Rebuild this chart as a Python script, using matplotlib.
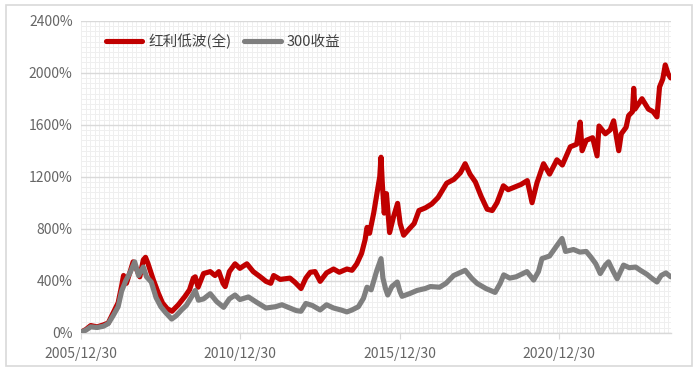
import numpy as np
import pandas as pd
import matplotlib
matplotlib.use("Agg")
import matplotlib.pyplot as plt
import matplotlib.dates as mdates
from matplotlib.patches import Rectangle
from matplotlib.ticker import MultipleLocator, FixedLocator

plt.rcParams['font.family'] = ['Noto Sans CJK SC', 'DejaVu Sans']

series_names = ["红利低波(全)", "300收益"]

# time in decimal years
red_t = [2006.00, 2006.15, 2006.30, 2006.50, 2006.70, 2006.85, 2007.00, 2007.16, 2007.27, 2007.33,
         2007.42, 2007.55, 2007.63, 2007.72, 2007.84, 2007.95, 2008.02, 2008.10, 2008.26, 2008.42,
         2008.55, 2008.70, 2008.85, 2008.95, 2009.05, 2009.26, 2009.40, 2009.52, 2009.58, 2009.67,
         2009.75, 2009.84, 2010.05, 2010.20, 2010.32, 2010.45, 2010.52, 2010.65, 2010.83, 2010.98,
         2011.20, 2011.40, 2011.62, 2011.80, 2011.95, 2012.04, 2012.25, 2012.55, 2012.70, 2012.90,
         2013.05, 2013.19, 2013.34, 2013.50, 2013.70, 2013.92, 2014.10, 2014.34, 2014.50, 2014.65,
         2014.80, 2014.91, 2014.97, 2015.05, 2015.18, 2015.30, 2015.37, 2015.41, 2015.45, 2015.51,
         2015.58, 2015.68, 2015.80, 2015.93, 2016.01, 2016.12, 2016.30, 2016.45, 2016.60, 2016.80,
         2017.00, 2017.20, 2017.47, 2017.70, 2017.90, 2018.05, 2018.20, 2018.37, 2018.55, 2018.74,
         2018.90, 2019.05, 2019.25, 2019.40, 2019.60, 2019.80, 2020.00, 2020.15, 2020.30, 2020.51,
         2020.70, 2020.93, 2021.10, 2021.35, 2021.55, 2021.66, 2021.72, 2021.85, 2022.05, 2022.19,
         2022.25, 2022.45, 2022.60, 2022.71, 2022.80, 2022.87, 2022.95, 2023.10, 2023.18, 2023.30,
         2023.34, 2023.38, 2023.60, 2023.80, 2023.95, 2024.07, 2024.15, 2024.25, 2024.33, 2024.42,
         2024.50]
red_v = [5, 25, 55, 45, 60, 75, 150, 230, 360, 440,
         380, 480, 545, 500, 430, 560, 580, 530, 410, 305,
         230, 185, 165, 190, 215, 280, 330, 420, 430, 350,
         400, 455, 470, 440, 470, 380, 355, 470, 530, 495,
         530, 470, 430, 395, 380, 440, 410, 420, 390, 340,
         420, 465, 470, 395, 460, 490, 465, 490, 480, 530,
         610, 715, 810, 765, 920, 1100, 1200, 1350, 1150, 920,
         1070, 770, 890, 995, 840, 750, 800, 840, 940, 960,
         990, 1040, 1150, 1180, 1230, 1300, 1220, 1160, 1050, 950,
         940, 1000, 1130, 1100, 1120, 1140, 1170, 1000, 1150, 1300,
         1220, 1330, 1290, 1430, 1450, 1620, 1400, 1480, 1500, 1360,
         1590, 1530, 1560, 1630, 1500, 1400, 1530, 1580, 1670, 1700,
         1880, 1720, 1800, 1720, 1700, 1660, 1890, 1950, 2060, 1990,
         1960]

gray_t = [2006.00, 2006.15, 2006.30, 2006.50, 2006.70, 2006.85, 2007.00, 2007.16, 2007.27, 2007.40,
          2007.55, 2007.68, 2007.80, 2007.95, 2008.05, 2008.20, 2008.35, 2008.50, 2008.65, 2008.84,
          2008.98, 2009.15, 2009.30, 2009.45, 2009.58, 2009.68, 2009.84, 2010.05, 2010.25, 2010.47,
          2010.65, 2010.83, 2010.98, 2011.25, 2011.50, 2011.80, 2012.10, 2012.30, 2012.55, 2012.75,
          2012.90, 2013.05, 2013.25, 2013.50, 2013.70, 2013.92, 2014.15, 2014.34, 2014.50, 2014.70,
          2014.86, 2014.97, 2015.10, 2015.28, 2015.41, 2015.47, 2015.55, 2015.62, 2015.75, 2015.92,
          2016.00, 2016.07, 2016.30, 2016.54, 2016.80, 2016.96, 2017.25, 2017.45, 2017.69, 2018.05,
          2018.25, 2018.42, 2018.70, 2018.99, 2019.15, 2019.26, 2019.45, 2019.65, 2019.99, 2020.20,
          2020.35, 2020.46, 2020.70, 2020.90, 2021.09, 2021.20, 2021.45, 2021.65, 2021.85, 2022.00,
          2022.15, 2022.29, 2022.45, 2022.55, 2022.70, 2022.82, 2023.02, 2023.20, 2023.40, 2023.55,
          2023.75, 2023.90, 2024.07, 2024.20, 2024.35, 2024.50]
gray_v = [5, 20, 45, 40, 50, 70, 130, 200, 320, 400,
          470, 545, 440, 505, 430, 390, 270, 200, 155, 105,
          130, 175, 210, 270, 325, 250, 260, 300, 240, 195,
          260, 290, 255, 275, 235, 190, 200, 215, 190, 170,
          165, 225, 210, 175, 215, 190, 175, 160, 175, 200,
          265, 350, 330, 480, 570, 420, 340, 290, 355, 390,
          320, 280, 300, 325, 340, 355, 350, 380, 440, 480,
          420, 380, 340, 310, 380, 445, 420, 430, 470, 405,
          470, 570, 590, 660, 725, 625, 640, 620, 625, 580,
          530, 455, 520, 545, 470, 415, 520, 500, 505, 480,
          450, 420, 390, 440, 460, 430]

x_tick_dates = ["2005-12-30", "2010-12-30", "2015-12-30", "2020-12-30"]
x_tick_labels = ["2005/12/30", "2010/12/30", "2015/12/30", "2020/12/30"]
y_ticks = [0, 400, 800, 1200, 1600, 2000, 2400]


def to_dates(t):
    t = np.asarray(t, dtype=float)
    return pd.Timestamp("2006-01-01") + pd.to_timedelta((t - 2006.0) * 365.25, unit="D")


fig = plt.figure(figsize=(7.0, 3.7), dpi=100)
ax = fig.add_axes([0.1157, 0.1008, 0.9586 - 0.1157, 0.944 - 0.1008])

# figure border
fig.patches.append(Rectangle((6 / 700, 4 / 370), 686 / 700, 361 / 370, transform=fig.transFigure,
                             fill=False, edgecolor="#d9d9d9", linewidth=1.2))

ax.plot(to_dates(red_t), red_v, color="#C00000", lw=3.7, solid_capstyle="round",
        solid_joinstyle="round", label=series_names[0], zorder=3)
ax.plot(to_dates(gray_t), gray_v, color="#7F7F7F", lw=3.7, solid_capstyle="round",
        solid_joinstyle="round", label=series_names[1], zorder=4)

xmin = pd.Timestamp("2005-12-30")
xmax = pd.Timestamp("2024-07-06")
ax.set_xlim(xmin, xmax)
ax.set_ylim(0, 2400)

ax.set_yticks(y_ticks)
ax.set_yticklabels([f"{v}%" for v in y_ticks])
ax.yaxis.set_minor_locator(MultipleLocator(40))

xt = [mdates.date2num(pd.Timestamp(d)) for d in x_tick_dates]
ax.set_xticks(xt)
ax.set_xticklabels(x_tick_labels)
minor_x = np.arange(mdates.date2num(xmin), mdates.date2num(xmax), 53.0)
ax.xaxis.set_minor_locator(FixedLocator(minor_x))

ax.grid(which="minor", axis="both", color="#efefef", lw=0.7)
ax.grid(which="major", axis="y", color="#d9d9d9", lw=1.0)
ax.grid(which="major", axis="x", color="#efefef", lw=0.7)
ax.set_axisbelow(True)

for s in ["left", "right", "top"]:
    ax.spines[s].set_visible(False)
ax.spines["bottom"].set_color("#d9d9d9")
ax.spines["bottom"].set_linewidth(1.0)

ax.tick_params(axis="y", which="both", length=0, labelsize=10, labelcolor="#666666", pad=6)
ax.tick_params(axis="x", which="major", length=4, color="#d9d9d9", labelsize=10,
               labelcolor="#666666", pad=6)
ax.tick_params(axis="x", which="minor", length=0)

leg = ax.legend(loc="upper left", bbox_to_anchor=(0.02, 1.0), ncol=2, frameon=False,
                fontsize=10.5, handlelength=2.5, columnspacing=0.9, handletextpad=0.4)
for txt in leg.get_texts():
    txt.set_color("#404040")

fig.savefig("out.png", dpi=100, facecolor="white")
